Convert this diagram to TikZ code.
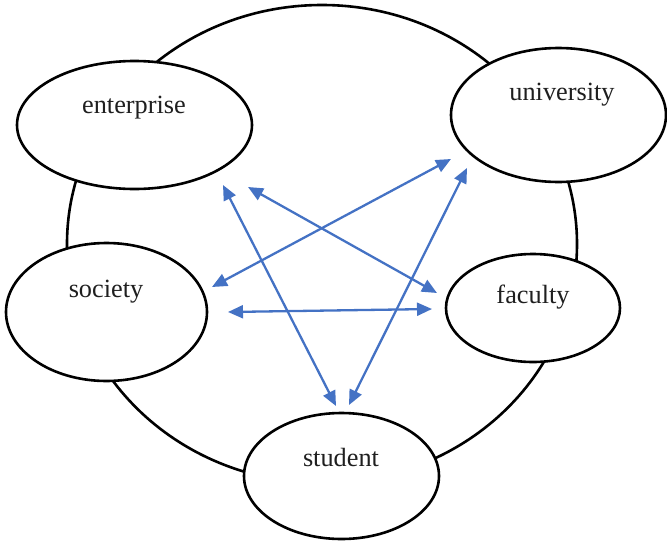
\documentclass[tikz,border=0pt]{standalone}
\usepackage{fontspec}
\setmainfont{Liberation Serif}
\usetikzlibrary{shapes.geometric,arrows.meta}
\begin{document}
\begin{tikzpicture}[x=1pt,y=-1pt,
  ring/.style={draw=black,line width=2.6pt},
  party/.style={ellipse,draw=black,line width=2.6pt,fill=white,inner sep=0pt},
  partytext/.style={anchor=base,inner sep=0pt,font=\fontsize{26.3}{30}\selectfont,text=black!88},
  link/.style={draw=linkblue,line width=2.3pt,
    {Triangle[length=15pt,width=13pt]}-{Triangle[length=15pt,width=13pt]}}]
\definecolor{linkblue}{HTML}{4472C4}
\useasboundingbox (0,0) rectangle (667,544);
% outer ring joining the five parties
\draw[ring] (322,244) ellipse [x radius=255, y radius=239];
% the five parties
\node[party,minimum width=235pt,minimum height=128pt] (enterprise) at (134.5,125) {};
\node[party,minimum width=215pt,minimum height=134pt] (university) at (558.5,115) {};
\node[party,minimum width=201pt,minimum height=138pt] (society) at (106.5,312) {};
\node[party,minimum width=174pt,minimum height=108pt] (faculty) at (533,308) {};
\node[party,minimum width=195pt,minimum height=126pt] (student) at (341.5,476) {};
\node[partytext] (enterprise-t) at (134,113) {enterprise};
\node[partytext] (university-t) at (562,100) {university};
\node[partytext] (society-t) at (106,297) {society};
\node[partytext] (faculty-t) at (533,303) {faculty};
\node[partytext] (student-t) at (341,466) {student};
% arrow ends near each party
\coordinate (e1) at (223,185);
\coordinate (e2) at (248,187);
\coordinate (u1) at (451,159);
\coordinate (u2) at (467,168);
\coordinate (s1) at (212,287);
\coordinate (s2) at (228,312);
\coordinate (f1) at (437,293);
\coordinate (f2) at (432,309);
\coordinate (t1) at (336,406);
\coordinate (t2) at (349,405);
% two-way relations
\draw[link] (e1) -- (t1);
\draw[link] (e2) -- (f1);
\draw[link] (s1) -- (u1);
\draw[link] (u2) -- (t2);
\draw[link] (s2) -- (f2);
\end{tikzpicture}
\end{document}
